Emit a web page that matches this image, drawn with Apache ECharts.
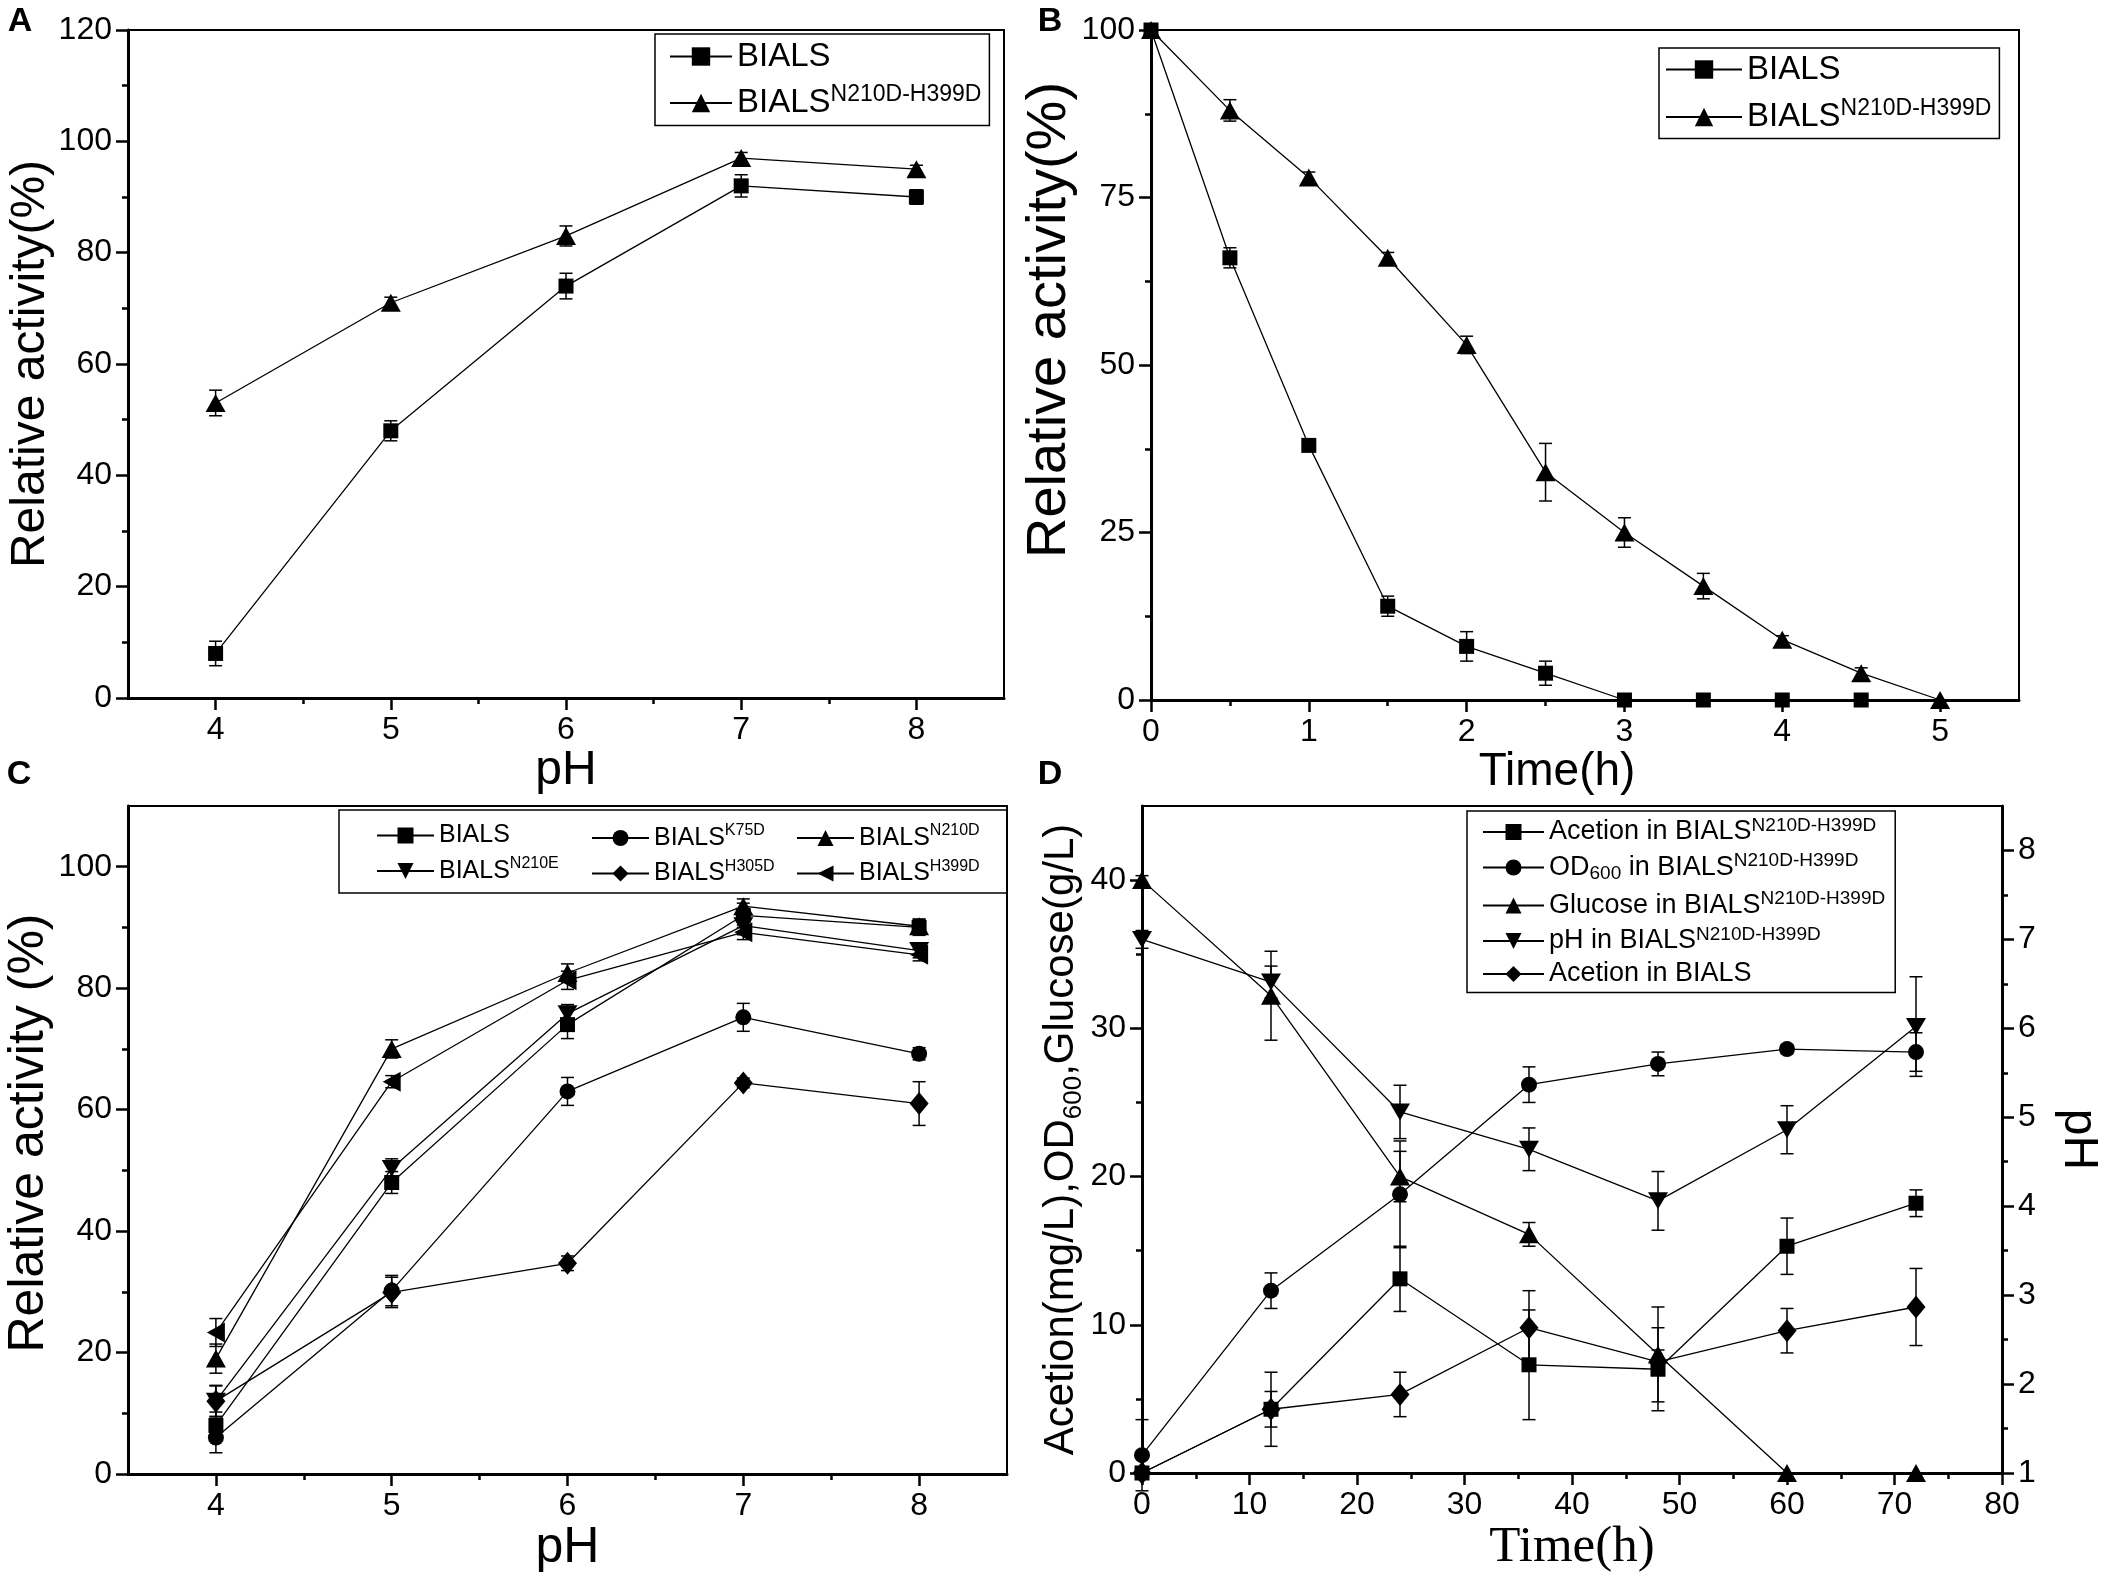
<!DOCTYPE html>
<html>
<head>
<meta charset="utf-8">
<script src="https://cdn.jsdelivr.net/npm/echarts@6/dist/echarts.min.js"></script>
<style>
  html, body { margin: 0; padding: 0; background: #fff; }
  #chart { width: 2106px; height: 1581px; }
</style>
</head>
<body>
<div id="chart"></div>
<script>
// ---- data ----
// A: pH profile
const phA = [4, 5, 6, 7, 8];
const bialsA = [8, 48, 74, 92, 90];
const bialsAErr = [2.2, 1.8, 2.3, 2, 1.3];
const mutA = [53, 71, 83, 97, 95];
const mutAErr = [2.3, 1, 1.8, 1, 0.7];

// B: stability over time
const timeB1 = [0, 0.5, 1, 1.5, 2, 2.5, 3, 3.5, 4, 4.5];
const bialsB = [100, 66, 38, 14, 8, 4, 0, 0, 0, 0];
const bialsBErr = [0, 1.5, 0.8, 1.5, 2.2, 1.8, 0, 0, 0, 0];
const timeB2 = [0, 0.5, 1, 1.5, 2, 2.5, 3, 3.5, 4, 4.5, 5];
const mutB = [100, 88, 78, 66, 53, 34, 25, 17, 9, 4, 0];
const mutBErr = [0, 1.6, 0.8, 0.8, 1.3, 4.3, 2.2, 1.9, 0.6, 0.8, 0];

// C: single mutants vs pH
const phC = [4, 5, 6, 7, 8];
const bialsC = [8, 48, 74, 92, 90];
const bialsCErr = [2.2, 1.8, 2.3, 2, 1.3];
const k75dC = [6, 30.2, 63, 75.2, 69.2];
const k75dCErr = [2.5, 2.5, 2.3, 2.3, 1];
const n210dC = [19, 70, 82.5, 93.5, 90.2];
const n210dCErr = [2.4, 1.5, 1.5, 1.2, 1.2];
const n210eC = [12, 50.3, 75.8, 90.3, 86.2];
const n210eCErr = [2.5, 1.6, 1.5, 1.5, 1.2];
const h305dC = [12, 29.9, 34.7, 64.4, 61];
const h305dCErr = [2.6, 2.5, 1.2, 0.8, 3.6];
const h399dC = [23.3, 64.6, 81.3, 89.2, 85.5];
const h399dCErr = [2.3, 1, 1.5, 1.2, 1];

// D: fermentation
const timeD = [0, 12, 24, 36, 48, 60, 72];
const acetionMutD = [0, 4.3, 13.1, 7.3, 7.0, 15.3, 18.2];
const acetionMutDErr = [0, 2.5, 2.2, 3.7, 2.8, 1.9, 0.9];
const od600D = [1.2, 12.3, 18.8, 26.2, 27.6, 28.6, 28.4];
const od600DErr = [2.4, 1.2, 3.6, 1.2, 0.8, 0.3, 1.3];
const glucoseD = [40, 32.2, 20, 16.1, 8.0, 0, 0];
const glucoseDErr = [0.3, 3.0, 1.7, 0.8, 3.2, 0, 0];
const phD = [7.0, 6.52, 5.06, 4.64, 4.06, 4.86, 6.02];
const phDErr = [0.1, 0.18, 0.3, 0.24, 0.33, 0.27, 0.56];
const acetionWtD = [0, 4.3, 5.3, 9.8, 7.5, 9.6, 11.2];
const acetionWtDErr = [0, 1.2, 1.5, 2.5, 0.8, 1.5, 2.6];

// tick labels
const ticksPh = [4, 5, 6, 7, 8];
const minorPh = [4.5, 5.5, 6.5, 7.5];
const ticksTimeB = [0, 1, 2, 3, 4, 5];
const minorTimeB = [0.5, 1.5, 2.5, 3.5, 4.5];
const ticksYA = [0, 20, 40, 60, 80, 100, 120];
const minorYA = [10, 30, 50, 70, 90, 110];
const ticksYB = [0, 25, 50, 75, 100];
const minorYB = [12.5, 37.5, 62.5, 87.5];
const ticksYC = [0, 20, 40, 60, 80, 100];
const minorYC = [10, 30, 50, 70, 90];
const ticksTimeD = [0, 10, 20, 30, 40, 50, 60, 70, 80];
const minorTimeD = [5, 15, 25, 35, 45, 55, 65, 75];
const ticksYD = [0, 10, 20, 30, 40];
const minorYD = [5, 15, 25, 35];
const ticksPhD = [1, 2, 3, 4, 5, 6, 7, 8];
const minorPhD = [1.5, 2.5, 3.5, 4.5, 5.5, 6.5, 7.5];

// legend labels (rich text)
const labels = {
  'A-wt': '{n|BIALS}',
  'A-mut': '{n|BIALS}{s|N210D-H399D}',
  'B-wt': '{n|BIALS}',
  'B-mut': '{n|BIALS}{s|N210D-H399D}',
  'C-wt': '{n|BIALS}',
  'C-k75d': '{n|BIALS}{s|K75D}',
  'C-n210d': '{n|BIALS}{s|N210D}',
  'C-n210e': '{n|BIALS}{s|N210E}',
  'C-h305d': '{n|BIALS}{s|H305D}',
  'C-h399d': '{n|BIALS}{s|H399D}',
  'D-ac': '{n|Acetion in BIALS}{s|N210D-H399D}',
  'D-od': '{n|OD}{d|600}{n| in BIALS}{s|N210D-H399D}',
  'D-glc': '{n|Glucose in BIALS}{s|N210D-H399D}',
  'D-ph': '{n|pH in BIALS}{s|N210D-H399D}',
  'D-acwt': '{n|Acetion in BIALS}'
};

const SANS = 'Liberation Sans';
const SERIF = 'Liberation Serif';

const SYM = {
  square: { symbol: 'rect', symbolSize: 15, symbolRotate: 0 },
  circle: { symbol: 'circle', symbolSize: 16, symbolRotate: 0 },
  up: { symbol: 'triangle', symbolSize: [20, 18], symbolRotate: 0 },
  down: { symbol: 'triangle', symbolSize: [20, 17], symbolRotate: 180 },
  left: { symbol: 'triangle', symbolSize: [20, 18], symbolRotate: 90 },
  diamond: { symbol: 'diamond', symbolSize: [19, 23], symbolRotate: 0 }
};

function pairs(xs, ys) { return xs.map((x, i) => [x, ys[i]]); }

function line(name, xs, ys, sym, xi, yi) {
  return Object.assign({
    name: name,
    type: 'line',
    xAxisIndex: xi,
    yAxisIndex: yi,
    data: pairs(xs, ys),
    itemStyle: { color: '#000' },
    lineStyle: { color: '#000', width: 1.3 },
    showSymbol: true,
    animation: false,
    z: 3
  }, sym);
}

function renderErr(params, api) {
  const x = api.value(0), y = api.value(1), e = api.value(2);
  if (!e) return null;
  const hi = api.coord([x, y + e]);
  const lo = api.coord([x, y - e]);
  const w = 6.5;
  const st = { stroke: '#000', lineWidth: 1.5 };
  return {
    type: 'group',
    children: [
      { type: 'line', shape: { x1: hi[0], y1: hi[1], x2: lo[0], y2: lo[1] }, style: st },
      { type: 'line', shape: { x1: hi[0] - w, y1: hi[1], x2: hi[0] + w, y2: hi[1] }, style: st },
      { type: 'line', shape: { x1: lo[0] - w, y1: lo[1], x2: lo[0] + w, y2: lo[1] }, style: st }
    ]
  };
}

function errs(xs, ys, es, xi, yi) {
  return {
    type: 'custom',
    name: 'err',
    xAxisIndex: xi,
    yAxisIndex: yi,
    data: xs.map((x, i) => [x, ys[i], es[i]]),
    encode: { x: 0, y: 1 },
    renderItem: renderErr,
    silent: true,
    animation: false,
    z: 2
  };
}

function mainAxis(gridIndex, position, min, max, majors, extra) {
  return Object.assign({
    type: 'value', gridIndex: gridIndex, position: position, min: min, max: max,
    axisLine: { onZero: false, lineStyle: { color: '#000', width: 3 } },
    axisTick: { customValues: majors, length: 12, lineStyle: { color: '#000', width: 2.5 } },
    axisLabel: { customValues: majors, color: '#000', fontSize: 32, fontFamily: SANS, margin: 16 },
    splitLine: { show: false },
    nameLocation: 'middle'
  }, extra);
}

function minorAxis(gridIndex, position, min, max, minors) {
  return {
    type: 'value', gridIndex: gridIndex, position: position, min: min, max: max,
    axisLine: { show: false, onZero: false },
    axisTick: { customValues: minors, length: 6, lineStyle: { color: '#000', width: 2.5 } },
    axisLabel: { show: false },
    splitLine: { show: false }
  };
}

function nameStyle(size, family, extra) {
  return Object.assign({ fontSize: size, fontFamily: family || SANS, color: '#000' }, extra || {});
}

const xAxes = [
  mainAxis(0, 'bottom', 3.5, 8.5, ticksPh, { name: 'pH', nameGap: 43, nameTextStyle: nameStyle(48) }),
  minorAxis(0, 'bottom', 3.5, 8.5, minorPh),
  mainAxis(1, 'bottom', 0, 5.5, ticksTimeB, { name: 'Time(h)', nameGap: 43, nameTextStyle: nameStyle(46, SANS, { padding: [0, 56, 0, 0] }) }),
  minorAxis(1, 'bottom', 0, 5.5, minorTimeB),
  mainAxis(2, 'bottom', 3.5, 8.5, ticksPh, { name: 'pH', nameGap: 33, nameTextStyle: nameStyle(50) }),
  minorAxis(2, 'bottom', 3.5, 8.5, minorPh),
  mainAxis(3, 'bottom', 0, 80, ticksTimeD, { name: 'Time(h)', nameGap: 40, nameTextStyle: nameStyle(51, SERIF) }),
  minorAxis(3, 'bottom', 0, 80, minorTimeD)
];

const yAxes = [
  mainAxis(0, 'left', 0, 120, ticksYA, { name: 'Relative activity(%)', nameGap: 60, nameTextStyle: nameStyle(48) }),
  minorAxis(0, 'left', 0, 120, minorYA),
  mainAxis(1, 'left', 0, 100, ticksYB, { name: 'Relative activity(%)', nameGap: 58, nameTextStyle: nameStyle(56, SANS, { padding: [0, 0, 0, 90] }) }),
  minorAxis(1, 'left', 0, 100, minorYB),
  mainAxis(2, 'left', 0, 110, ticksYC, { name: 'Relative activity (%)', nameGap: 60, nameTextStyle: nameStyle(50, SANS, { padding: [0, 0, 0, 14] }) }),
  minorAxis(2, 'left', 0, 110, minorYC),
  mainAxis(3, 'left', 0, 45, ticksYD, {
    name: '{n|Acetion(mg/L),OD}{d|600}{n|,Glucose(g/L)}', nameGap: 54,
    nameTextStyle: nameStyle(42, SANS, { rich: {
      n: { fontSize: 42, fontFamily: SANS, color: '#000', lineHeight: 50 },
      d: { fontSize: 26, fontFamily: SANS, color: '#000', verticalAlign: 'bottom', lineHeight: 26 }
    } })
  }),
  minorAxis(3, 'left', 0, 45, minorYD),
  mainAxis(3, 'right', 1, 8.5, ticksPhD, { name: 'pH', nameGap: 52, nameRotate: -90, nameTextStyle: nameStyle(48) }),
  minorAxis(3, 'right', 1, 8.5, minorPhD)
];

const grids = [
  { left: 128, top: 30, width: 876, height: 668 },
  { left: 1151, top: 30, width: 868, height: 670 },
  { left: 128, top: 806, width: 879, height: 668 },
  { left: 1142, top: 806, width: 860, height: 667 }
].map(g => Object.assign({ show: true, borderColor: '#000', borderWidth: 2, backgroundColor: 'transparent' }, g));

const series = [
  errs(phA, bialsA, bialsAErr, 0, 0),
  errs(phA, mutA, mutAErr, 0, 0),
  line('A-wt', phA, bialsA, SYM.square, 0, 0),
  line('A-mut', phA, mutA, SYM.up, 0, 0),

  errs(timeB1, bialsB, bialsBErr, 2, 2),
  errs(timeB2, mutB, mutBErr, 2, 2),
  line('B-wt', timeB1, bialsB, SYM.square, 2, 2),
  line('B-mut', timeB2, mutB, SYM.up, 2, 2),

  errs(phC, bialsC, bialsCErr, 4, 4),
  errs(phC, k75dC, k75dCErr, 4, 4),
  errs(phC, n210dC, n210dCErr, 4, 4),
  errs(phC, n210eC, n210eCErr, 4, 4),
  errs(phC, h305dC, h305dCErr, 4, 4),
  errs(phC, h399dC, h399dCErr, 4, 4),
  line('C-wt', phC, bialsC, SYM.square, 4, 4),
  line('C-k75d', phC, k75dC, SYM.circle, 4, 4),
  line('C-n210d', phC, n210dC, SYM.up, 4, 4),
  line('C-n210e', phC, n210eC, SYM.down, 4, 4),
  line('C-h305d', phC, h305dC, SYM.diamond, 4, 4),
  line('C-h399d', phC, h399dC, SYM.left, 4, 4),

  errs(timeD, acetionMutD, acetionMutDErr, 6, 6),
  errs(timeD, od600D, od600DErr, 6, 6),
  errs(timeD, glucoseD, glucoseDErr, 6, 6),
  errs(timeD, phD, phDErr, 6, 8),
  errs(timeD, acetionWtD, acetionWtDErr, 6, 6),
  line('D-ac', timeD, acetionMutD, SYM.square, 6, 6),
  line('D-od', timeD, od600D, SYM.circle, 6, 6),
  line('D-glc', timeD, glucoseD, SYM.up, 6, 6),
  line('D-ph', timeD, phD, SYM.down, 6, 8),
  line('D-acwt', timeD, acetionWtD, SYM.diamond, 6, 6)
];

function legend(data, cfg, sizes) {
  return Object.assign({
    data: data,
    orient: 'vertical',
    selectedMode: false,
    itemHeight: sizes.icon,
    formatter: name => labels[name],
    textStyle: {
      color: '#000',
      rich: {
        n: { fontSize: sizes.n, fontFamily: SANS, color: '#000', lineHeight: sizes.lh },
        s: { fontSize: sizes.s, fontFamily: SANS, color: '#000', verticalAlign: 'top', lineHeight: sizes.s },
        d: { fontSize: sizes.s, fontFamily: SANS, color: '#000', verticalAlign: 'bottom', lineHeight: sizes.s }
      }
    }
  }, cfg);
}

const boxed = { borderColor: '#000', borderWidth: 1.5 };
const legends = [
  legend(['A-wt', 'A-mut'], Object.assign({ left: 655, top: 34, itemWidth: 62, itemGap: 10, padding: [6, 8, 6, 14] }, boxed), { n: 33, s: 23, lh: 40, icon: 23 }),
  legend(['B-wt', 'B-mut'], Object.assign({ left: 1659, top: 48, itemWidth: 76, itemGap: 11, padding: [5, 8, 5, 6] }, boxed), { n: 33, s: 23, lh: 40, icon: 23 }),
  legend(['C-wt', 'C-n210e'], { left: 376, top: 823, itemWidth: 57, itemGap: 8, padding: 0 }, { n: 25, s: 16, lh: 30, icon: 20 }),
  legend(['C-k75d', 'C-h305d'], { left: 591, top: 823, itemWidth: 57, itemGap: 8, padding: 0 }, { n: 25, s: 16, lh: 30, icon: 20 }),
  legend(['C-n210d', 'C-h399d'], { left: 796, top: 823, itemWidth: 57, itemGap: 8, padding: 0 }, { n: 25, s: 16, lh: 30, icon: 20 }),
  legend(['D-ac', 'D-od', 'D-glc', 'D-ph', 'D-acwt'], Object.assign({ left: 1467, top: 811, itemWidth: 61, itemGap: 6, padding: [5, 10, 5, 15] }, boxed), { n: 27, s: 19, lh: 32, icon: 20 })
];

function letter(text, x, y) {
  return {
    type: 'text', x: x, y: y, z: 10,
    style: { text: text, font: 'bold 34px ' + SANS, fill: '#000', textAlign: 'center', textVerticalAlign: 'middle', align: 'center', verticalAlign: 'middle' }
  };
}

const chart = echarts.init(document.getElementById('chart'));
chart.setOption({
  backgroundColor: '#fff',
  animation: false,
  grid: grids,
  xAxis: xAxes,
  yAxis: yAxes,
  legend: legends,
  series: series,
  graphic: [
    letter('A', 20, 22),
    letter('B', 1050, 22),
    letter('C', 19, 775),
    letter('D', 1050, 775),
    { type: 'rect', z: 5, shape: { x: 339, y: 810, width: 668, height: 83 }, style: { fill: 'none', stroke: '#000', lineWidth: 1.5 } }
  ]
});
window.addEventListener('resize', () => chart.resize());
</script>
</body>
</html>
